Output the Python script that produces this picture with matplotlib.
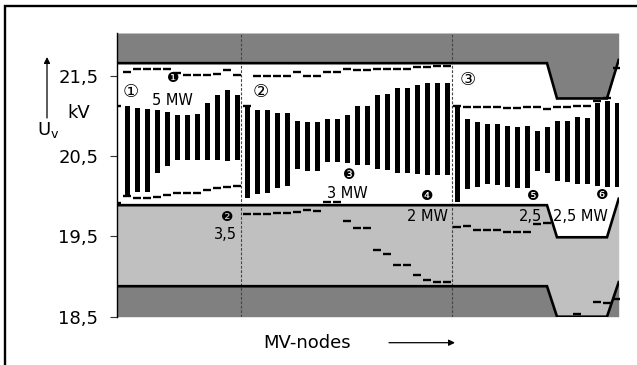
import numpy as np
import matplotlib.pyplot as plt
from matplotlib.patches import Rectangle

# node voltages per MV-node (3 feeders), kV
nodes = np.arange(51)
bar_top = [21.13, 21.12, 21.105, 21.09, 21.076, 21.047, 21.01, 21.02, 21.03, 21.16, 21.26, 21.33, 21.26,
           21.12, 21.076, 21.076, 21.04, 21.04, 20.94, 20.93, 20.93, 20.97, 20.97, 21.02, 21.13, 21.13,
           21.26, 21.28, 21.35, 21.35, 21.39, 21.41, 21.41, 21.41,
           21.13, 20.97, 20.93, 20.90, 20.90, 20.88, 20.86, 20.88, 20.81, 20.87, 20.94, 20.94, 20.99,
           20.98, 21.16, 21.19, 21.16]
bar_bottom = [19.93, 20.01, 20.06, 20.06, 20.29, 20.38, 20.45, 20.45, 20.45, 20.45, 20.45, 20.44, 20.45,
              19.975, 20.025, 20.04, 20.10, 20.13, 20.34, 20.32, 20.32, 20.43, 20.43, 20.41, 20.39, 20.39,
              20.34, 20.33, 20.29, 20.29, 20.28, 20.27, 20.27, 20.27,
              19.93, 20.09, 20.12, 20.15, 20.14, 20.12, 20.11, 20.11, 20.31, 20.29, 20.19, 20.18, 20.16,
              20.15, 20.13, 20.12, 20.12]
nan = np.nan
upper_dash = [21.13, 21.55, 21.59, 21.59, 21.59, 21.59, 21.54, 21.51, 21.51, 21.51, 21.53, 21.58, 21.51,
              21.12, 21.504, 21.504, 21.504, 21.504, 21.554, 21.504, 21.504, 21.554, 21.554, 21.59, 21.575,
              21.575, 21.585, 21.585, 21.585, 21.59, 21.615, 21.615, 21.62, 21.62,
              21.13, 21.118, 21.11, 21.11, 21.11, 21.097, 21.097, 21.11, 21.11, 21.085, 21.11, 21.118,
              21.126, 21.126, 21.19, 21.22, 21.60]
lower_dash = [19.92, 20.0, 19.98, 19.978, 19.995, 20.018, 20.04, 20.048, 20.048, 20.085, 20.11, 20.115, 20.125,
              19.776, 19.776, 19.776, 19.79, 19.79, 19.81, 19.83, 19.82, 19.925, 19.925, 19.69, 19.61, 19.61,
              19.33, 19.28, 19.14, 19.14, 19.02, 18.96, 18.93, 18.93,
              19.613, 19.63, 19.58, 19.58, 19.58, 19.56, 19.55, 19.56, 19.655, 19.67, nan, nan, 18.53,
              nan, 18.68, 18.67, 18.72]

# voltage band limits along the nodes
band_x = [0, 43, 44, 49, 50.17]
band_top = [21.66, 21.66, 21.22, 21.22, 21.70]
band_mid = [19.89, 19.89, 19.49, 19.49, 19.97]
band_bot = [18.88, 18.88, 18.5, 18.5, 18.93]
feeder_sep = [12.4, 33.5]

yticks = [18.5, 19.5, 20.5, 21.5]
ytick_labels = ['18,5', '19,5', '20,5', '21,5']

sym = ['DejaVu Sans', 'Noto Sans CJK JP']
dark = '#808080'
light = '#c0c0c0'
ytop = 22.036

fig = plt.figure(figsize=(6.37, 3.65), dpi=100)
ax = fig.add_axes([117/637, 1-316.7/365, (618.7-117)/637, (316.7-33)/365])

ax.fill_between(band_x, band_top, ytop, color=dark, lw=0, zorder=1)
ax.fill_between(band_x, band_bot, band_mid, color=light, lw=0, zorder=1)
ax.fill_between(band_x, 18.5, band_bot, color=dark, lw=0, zorder=1)
for b in (band_top, band_mid, band_bot):
    ax.plot(band_x, b, color='k', lw=1.9, zorder=2, solid_joinstyle='miter')

for s in feeder_sep:
    ax.axvline(s, color='#444444', lw=0.8, ls=(0, (2.5, 1.5)), zorder=1.5)

widths = [0.17] + [0.5]*50
ax.bar(nodes, np.array(bar_top)-np.array(bar_bottom), bottom=bar_bottom, width=widths,
       color='k', lw=0, zorder=3)
ax.plot(nodes, upper_dash, ls='none', marker='_', ms=6, mew=1.7, color='k', zorder=3)
ax.plot(nodes, lower_dash, ls='none', marker='_', ms=6, mew=1.7, color='k', zorder=3)

# annotations
ax.text(1.4, 21.30, '①', fontsize=13, ha='center', va='center', family=sym)
ax.text(14.4, 21.30, '②', fontsize=13, ha='center', va='center', family=sym)
ax.text(35.1, 21.45, '③', fontsize=13, ha='center', va='center', family=sym)
ax.text(5.6, 21.475, '❶', fontsize=10, ha='center', va='center', family=sym)
ax.text(11.0, 19.746, '❷', fontsize=10, ha='center', va='center', family=sym)
ax.text(23.2, 20.266, '❸', fontsize=10, ha='center', va='center', family=sym)
ax.text(31.05, 20.004, '❹', fontsize=10, ha='center', va='center', family=sym)
ax.text(41.6, 20.004, '❺', fontsize=10, ha='center', va='center', family=sym)
ax.text(48.55, 20.017, '❻', fontsize=10, ha='center', va='center', family=sym)
ax.text(3.47, 21.135, '5 MW', fontsize=10.5, ha='left', va='baseline')
ax.text(11.97, 19.47, '3,5', fontsize=10.5, ha='right', va='baseline')
ax.text(23.0, 19.976, '3 MW', fontsize=10.5, ha='center', va='baseline')
ax.text(33.13, 19.69, '2 MW', fontsize=10.5, ha='right', va='baseline')
ax.text(42.47, 19.69, '2,5', fontsize=10.5, ha='right', va='baseline')
ax.text(43.63, 19.69, '2,5 MW', fontsize=10.5, ha='left', va='baseline')

ax.set_xlim(0, 50.17)
ax.set_ylim(18.5, ytop)
ax.set_xticks([])
ax.set_yticks(yticks)
ax.set_yticklabels(ytick_labels, fontsize=13)
ax.tick_params(axis='y', length=5, width=0.8, pad=8.5, color='#333333')
for side in ['top', 'right', 'bottom']:
    ax.spines[side].set_visible(False)
ax.spines['left'].set_linewidth(1.0)
ax.spines['left'].set_zorder(4)

# outside labels
fig.text(79/637, 1-118/365, 'kV', fontsize=13, ha='center', va='baseline')
fig.text(37/637, 1-135.5/365, r'$\mathregular{U_v}$', fontsize=13, ha='left', va='baseline')
fig.text(307.5/637, 1-348/365, 'MV-nodes', fontsize=13, ha='center', va='baseline')
ax.annotate('', xy=(47, 308), xytext=(47, 247), xycoords='figure pixels', textcoords='figure pixels',
            arrowprops=dict(arrowstyle='-|>', lw=0.9, color='k', mutation_scale=9, shrinkA=0, shrinkB=0))
ax.annotate('', xy=(455, 22.3), xytext=(389, 22.3), xycoords='figure pixels', textcoords='figure pixels',
            arrowprops=dict(arrowstyle='-|>', lw=0.9, color='k', mutation_scale=9, shrinkA=0, shrinkB=0))

fig.add_artist(Rectangle((5.3/637, -0.1), 1.2, 1.1-6.2/365, transform=fig.transFigure,
                         fill=False, lw=1.7, ec='k', clip_on=False))

fig.savefig('out.png', dpi=100)
